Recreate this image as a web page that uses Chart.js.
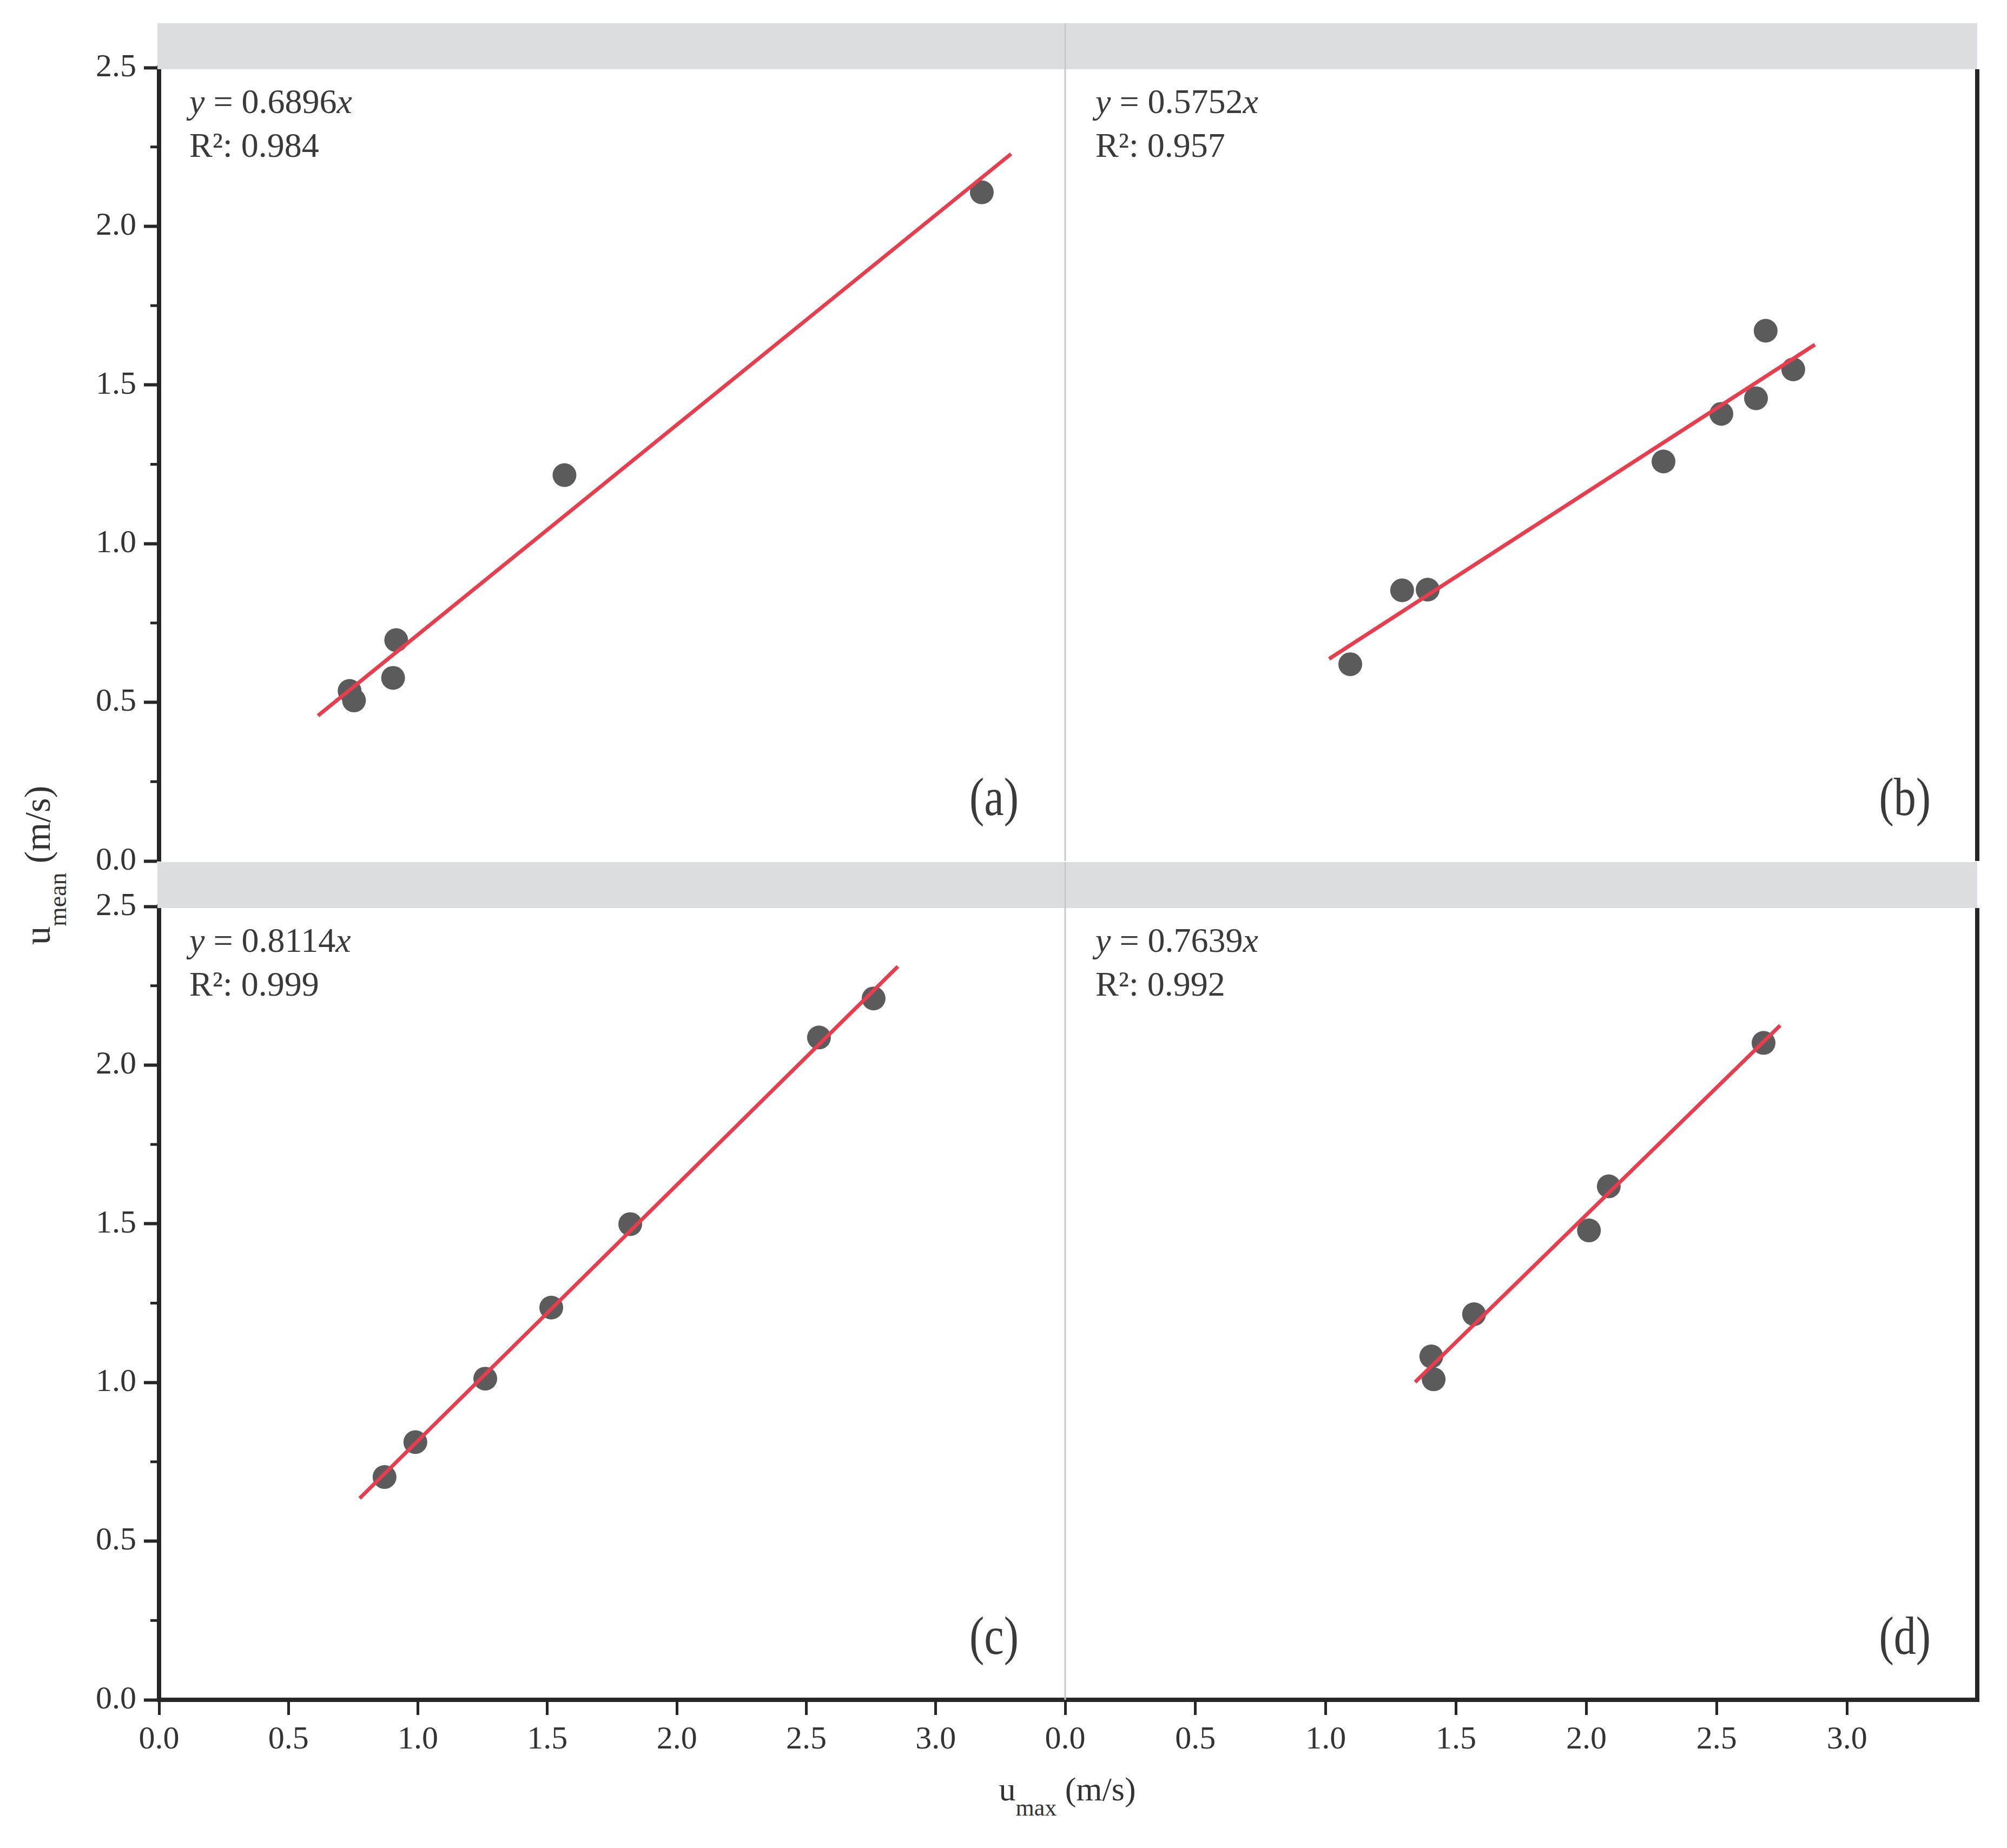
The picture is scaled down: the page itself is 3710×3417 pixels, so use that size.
<!DOCTYPE html>
<html>
<head>
<meta charset="utf-8">
<script src="https://cdn.jsdelivr.net/npm/chart.js@4.4.1/dist/chart.umd.min.js"></script>
<style>
html, body { margin: 0; padding: 0; background: #fff; }
#fig { position: relative; width: 3710px; height: 3417px; overflow: hidden; font-family: "Liberation Serif", "DejaVu Serif", serif; color: #333; }
#fig canvas { position: absolute; }
.title { position: absolute; white-space: nowrap; line-height: 1; text-align: center; }
.title sub { vertical-align: baseline; position: relative; }
#xtitle { font-size: 62px; width: 600px; left: 1673px; top: 3277px; }
#xtitle sub { font-size: 44px; top: 28px; }
#ytitle { font-size: 68px; width: 600px; height: 68px; left: -231px; top: 1566px; transform: rotate(-90deg); }
#ytitle sub { font-size: 46px; top: 30px; }
</style>
</head>
<body>
<div id="fig">
  <div class="title" id="xtitle">u<sub>max</sub> (m/s)</div>
  <div class="title" id="ytitle">u<sub>mean</sub> (m/s)</div>
</div>
<script>
// tick values
var xTicks = [0, 0.5, 1.0, 1.5, 2.0, 2.5, 3.0];
var yMinor = [0.25, 0.75, 1.25, 1.75, 2.25];

// (a)
var aX = [0.736, 0.753, 0.904, 0.916, 1.566, 3.178];
var aY = [0.536, 0.506, 0.577, 0.696, 1.216, 2.107];
var aFitX = [0.614, 3.291];
var aFitY = [0.458, 2.228];
// (b)
var bX = [1.094, 1.293, 1.391, 2.296, 2.518, 2.651, 2.688, 2.794];
var bY = [0.620, 0.853, 0.855, 1.259, 1.409, 1.458, 1.671, 1.549];
var bFitX = [1.013, 2.877];
var bFitY = [0.637, 1.627];
// (c)
var cX = [0.871, 0.990, 1.260, 1.515, 1.820, 2.549, 2.760];
var cY = [0.702, 0.812, 1.012, 1.236, 1.499, 2.087, 2.210];
var cFitX = [0.775, 2.854];
var cFitY = [0.635, 2.311];
// (d)
var dX = [1.405, 1.414, 1.569, 2.010, 2.086, 2.680];
var dY = [1.082, 1.010, 1.215, 1.479, 1.618, 2.070];
var dFitX = [1.343, 2.744];
var dFitY = [1.001, 2.125];

var slopes = ['0.6896', '0.5752', '0.8114', '0.7639'];
var r2 = ['0.984', '0.957', '0.999', '0.992'];
var tags = ['(a)', '(b)', '(c)', '(d)'];

Chart.defaults.font.family = '"Liberation Serif", "DejaVu Serif", serif';
Chart.defaults.color = '#333';

// plot area edges in the page
var colLeft = [294, 1969], colRight = [1969, 3655];
var rowTop = [125, 1676], rowBottom = [1592, 3143];

var panels = [
  { xs: aX, ys: aY, fx: aFitX, fy: aFitY, col: 0, row: 0 },
  { xs: bX, ys: bY, fx: bFitX, fy: bFitY, col: 1, row: 0 },
  { xs: cX, ys: cY, fx: cFitX, fy: cFitY, col: 0, row: 1 },
  { xs: dX, ys: dY, fx: dFitX, fy: dFitY, col: 1, row: 1 }
];

function pts(xs, ys) {
  return xs.map(function (x, i) { return { x: x, y: ys[i] }; });
}

var decor = {
  id: 'decor',
  afterDraw: function (chart) {
    var o = chart.options.plugins.decor;
    var a = chart.chartArea, c = chart.ctx;
    var ys = chart.scales.y;
    var i = o.idx;
    c.save();
    // facet strip
    c.fillStyle = '#dcdddf';
    var sx = o.col == 0 ? a.left - 3 : a.left;
    c.fillRect(sx, a.top - 82, a.right - sx, 85);
    if (o.col == 1) {
      c.strokeStyle = '#c9c9c9';
      c.lineWidth = 3;
      c.beginPath(); c.moveTo(a.left, a.top - 82); c.lineTo(a.left, a.bottom); c.stroke();
      c.strokeStyle = '#262626';
      c.lineWidth = 8;
      c.beginPath(); c.moveTo(a.right, a.top + 3); c.lineTo(a.right, a.bottom + (o.row == 1 ? 4 : 0)); c.stroke();
    } else {
      c.strokeStyle = '#262626';
      c.lineWidth = 5;
      yMinor.forEach(function (v) {
        var p = ys.getPixelForValue(v);
        c.beginPath(); c.moveTo(a.left - 16, p); c.lineTo(a.left, p); c.stroke();
      });
    }
    // equation and R2
    c.fillStyle = '#3a3a3a';
    c.textAlign = 'left';
    c.textBaseline = 'alphabetic';
    var ex = a.left + 56, ey = a.top + 84;
    c.font = 'italic 64px "Liberation Serif"';
    c.fillText('y', ex, ey);
    ex += c.measureText('y').width;
    c.font = '64px "Liberation Serif"';
    var s = ' = ' + slopes[i];
    c.fillText(s, ex, ey);
    ex += c.measureText(s).width;
    c.font = 'italic 64px "Liberation Serif"';
    c.fillText('x', ex, ey);
    c.font = '64px "Liberation Serif"';
    c.fillText('R\u00b2: ' + r2[i], a.left + 56, a.top + 165);
    // panel tag
    c.translate(a.right - 86, a.bottom - 85);
    c.scale(0.82, 1);
    c.textAlign = 'right';
    c.font = '100px "Liberation Serif"';
    c.fillText(tags[i], 0, 0);
    c.restore();
  }
};

var fig = document.getElementById('fig');

panels.forEach(function (p, i) {
  var left = colLeft[p.col], right = colRight[p.col];
  var top = rowTop[p.row], bottom = rowBottom[p.row];
  var showY = p.col == 0, showX = p.row == 1;
  var yW = showY ? 294 : 0;
  var mL = showY ? 294 : 60;
  var mR = showY ? 40 : 55;
  var mT = p.row == 0 ? 125 : 120;
  var xH = showX ? 130 : 0;
  var mB = showX ? 130 : 60;

  var cv = document.createElement('canvas');
  var w = right - left + mL + mR, h = bottom - top + mT + mB;
  cv.width = w; cv.height = h;
  cv.style.width = w + 'px'; cv.style.height = h + 'px';
  cv.style.left = (left - mL) + 'px';
  cv.style.top = (top - mT) + 'px';
  fig.appendChild(cv);

  new Chart(cv, {
    type: 'scatter',
    data: {
      datasets: [
        {
          type: 'line',
          data: pts(p.fx, p.fy),
          borderColor: '#e63e4e',
          borderWidth: 7,
          pointRadius: 0,
          fill: false,
          order: 0
        },
        {
          data: pts(p.xs, p.ys),
          backgroundColor: '#5b5b5b',
          borderWidth: 0,
          pointRadius: 22,
          order: 1
        }
      ]
    },
    options: {
      responsive: false,
      animation: false,
      devicePixelRatio: 1,
      layout: { padding: { left: mL - yW, right: mR, top: mT, bottom: mB - xH } },
      plugins: {
        legend: { display: false },
        tooltip: { enabled: false },
        decor: { idx: i, col: p.col, row: p.row }
      },
      scales: {
        x: {
          type: 'linear',
          display: showX,
          min: 0,
          max: 3.5,
          afterBuildTicks: function (s) {
            s.ticks = xTicks.map(function (v) { return { value: v }; });
          },
          afterFit: function (s) { s.height = xH; },
          ticks: {
            font: { size: 60 },
            color: '#333',
            padding: 10,
            maxRotation: 0,
            callback: function (v) { return Number(v).toFixed(1); }
          },
          grid: { display: true, drawOnChartArea: false, drawTicks: true, tickLength: 28, tickWidth: 5, tickColor: '#262626' },
          border: { display: true, color: '#262626', width: 8 }
        },
        y: {
          type: 'linear',
          display: showY,
          min: 0,
          max: 2.5,
          afterFit: function (s) { s.width = yW; },
          ticks: {
            stepSize: 0.5,
            font: { size: 60 },
            color: '#333',
            padding: 14,
            callback: function (v) { return Number(v).toFixed(1); }
          },
          grid: { display: true, drawOnChartArea: false, drawTicks: true, tickLength: 28, tickWidth: 6, tickColor: '#262626' },
          border: { display: true, color: '#262626', width: 8 }
        }
      }
    },
    plugins: [decor]
  });
});
</script>
</body>
</html>
